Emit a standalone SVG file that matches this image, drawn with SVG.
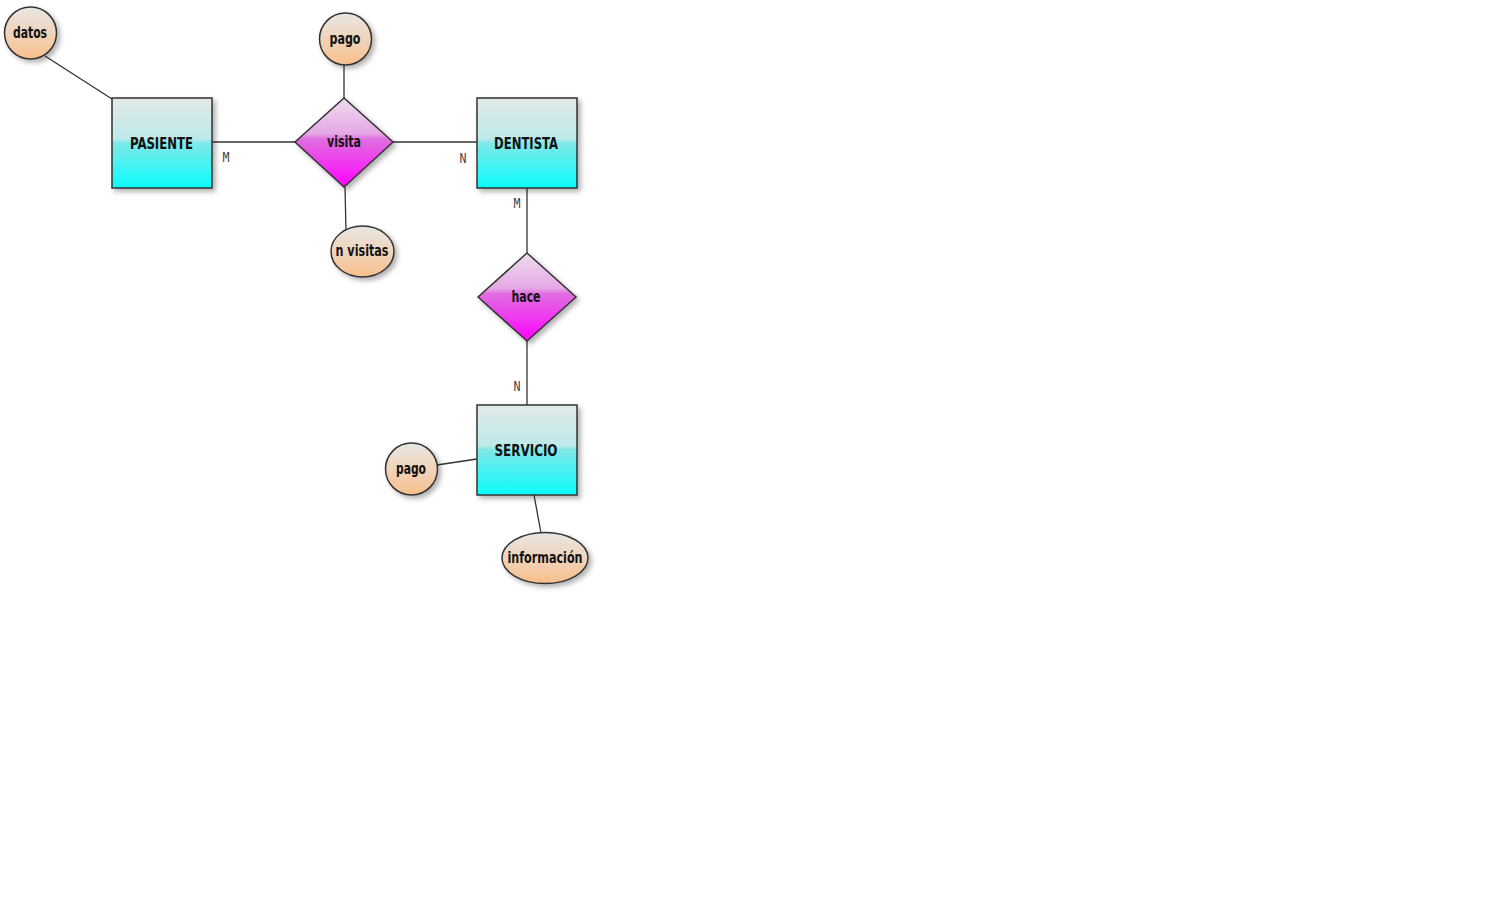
<svg xmlns="http://www.w3.org/2000/svg" width="1496" height="898" viewBox="0 0 1496 898">
<defs>
<linearGradient id="gEnt" x1="0" y1="0" x2="0" y2="1">
<stop offset="0" stop-color="#e2e9e9"/>
<stop offset="0.45" stop-color="#bfe9e9"/>
<stop offset="0.5" stop-color="#80e8e8"/>
<stop offset="1" stop-color="#0afcfc"/>
</linearGradient>
<linearGradient id="gRel" x1="0" y1="0" x2="0" y2="1">
<stop offset="0" stop-color="#ecdcec"/>
<stop offset="0.4" stop-color="#e6a8e6"/>
<stop offset="0.46" stop-color="#e070e0"/>
<stop offset="1" stop-color="#ff00ff"/>
</linearGradient>
<linearGradient id="gAtt" x1="0" y1="0" x2="0" y2="1">
<stop offset="0" stop-color="#e8e6e2"/>
<stop offset="0.5" stop-color="#f0d4bc"/>
<stop offset="1" stop-color="#f8bf8a"/>
</linearGradient>
<filter id="sh" x="-20%" y="-20%" width="150%" height="150%">
<feDropShadow dx="3" dy="3" stdDeviation="2.5" flood-color="#000" flood-opacity="0.3"/>
</filter>
</defs>
<style>
.ent{fill:url(#gEnt);stroke:#333;stroke-width:1.5;filter:url(#sh)}
.rel{fill:url(#gRel);stroke:#333;stroke-width:1.5;filter:url(#sh)}
.att{fill:url(#gAtt);stroke:#333;stroke-width:1.5;filter:url(#sh)}
.lbl{font-family:"DejaVu Sans Condensed","DejaVu Sans",sans-serif;font-weight:bold;font-size:16px;fill:#111;text-anchor:middle;dominant-baseline:central}
.card{font-family:"DejaVu Sans Mono","Liberation Mono",monospace;font-size:14px;fill:#444;text-anchor:middle;dominant-baseline:central}
.ln{stroke:#333;stroke-width:1.3;fill:none}
</style>
<rect width="1496" height="898" fill="#fff"/>
<g id="connectors">
<line class="ln" x1="45" y1="56" x2="112" y2="99"/>
<line class="ln" x1="212" y1="142" x2="295" y2="142"/>
<line class="ln" x1="393" y1="142" x2="477" y2="142"/>
<line class="ln" x1="344" y1="65" x2="344" y2="98"/>
<line class="ln" x1="345" y1="187" x2="346" y2="231"/>
<line class="ln" x1="527" y1="188" x2="527" y2="253"/>
<line class="ln" x1="527" y1="341" x2="527" y2="405"/>
<line class="ln" x1="437" y1="465" x2="477" y2="459"/>
<line class="ln" x1="534" y1="495" x2="541" y2="533"/>
<text class="card" x="226" y="157" textLength="7" lengthAdjust="spacingAndGlyphs">M</text>
<text class="card" x="463" y="158" textLength="7" lengthAdjust="spacingAndGlyphs">N</text>
<text class="card" x="517" y="203" textLength="7" lengthAdjust="spacingAndGlyphs">M</text>
<text class="card" x="517" y="386" textLength="7" lengthAdjust="spacingAndGlyphs">N</text>
</g>
<g id="datos"><circle class="att" cx="30.5" cy="33" r="26"/><text class="lbl" x="30" y="32" textLength="34" lengthAdjust="spacingAndGlyphs">datos</text></g>
<g id="pasiente"><rect class="ent" x="112" y="98" width="100" height="90"/><text class="lbl" x="161.5" y="143" textLength="63" lengthAdjust="spacingAndGlyphs">PASIENTE</text></g>
<g id="visita"><polygon class="rel" points="344,98 393,142 344,187 295,142"/><text class="lbl" x="344" y="141" textLength="34" lengthAdjust="spacingAndGlyphs">visita</text></g>
<g id="pago1"><circle class="att" cx="345.5" cy="39" r="26"/><text class="lbl" x="345" y="38" textLength="31" lengthAdjust="spacingAndGlyphs">pago</text></g>
<g id="nvisitas"><ellipse class="att" cx="362.5" cy="251.5" rx="31.5" ry="25.5"/><text class="lbl" x="362" y="250" textLength="53" lengthAdjust="spacingAndGlyphs">n visitas</text></g>
<g id="dentista"><rect class="ent" x="477" y="98" width="100" height="90"/><text class="lbl" x="526" y="143" textLength="64" lengthAdjust="spacingAndGlyphs">DENTISTA</text></g>
<g id="hace"><polygon class="rel" points="527,253 576,297 527,341 478,297"/><text class="lbl" x="526" y="296" textLength="29" lengthAdjust="spacingAndGlyphs">hace</text></g>
<g id="servicio"><rect class="ent" x="477" y="405" width="100" height="90"/><text class="lbl" x="526" y="450" textLength="63" lengthAdjust="spacingAndGlyphs">SERVICIO</text></g>
<g id="pago2"><circle class="att" cx="411.5" cy="469" r="26"/><text class="lbl" x="411" y="468" textLength="30" lengthAdjust="spacingAndGlyphs">pago</text></g>
<g id="informacion"><ellipse class="att" cx="545" cy="558" rx="43" ry="25.5"/><text class="lbl" x="545" y="557" textLength="75" lengthAdjust="spacingAndGlyphs">información</text></g>
</svg>
